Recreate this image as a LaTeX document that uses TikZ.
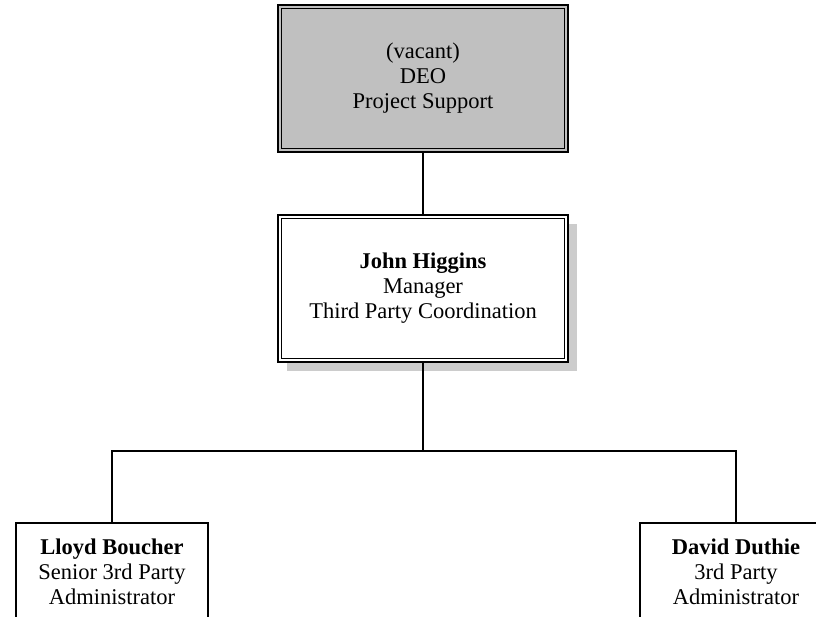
\documentclass[tikz,border=0pt]{standalone}
\usepackage{fontspec}
\setmainfont{Liberation Serif}
\definecolor{boxgray}{RGB}{192,192,192}
\definecolor{shadowgray}{RGB}{204,204,204}
\usetikzlibrary{positioning,shadows}

\tikzset{
  post/.style={draw, line width=1.6pt, align=center, inner sep=0pt,
               font=\fontsize{22.5}{25}\selectfont},
  headpost/.style={post, minimum width=290pt, minimum height=147pt},
  staffpost/.style={post, minimum width=192pt, minimum height=98pt},
  link/.style={line width=1.7pt}
}

\begin{document}
\begin{tikzpicture}[x=1pt,y=-1pt]
    \useasboundingbox (0,0) rectangle (816,617);
    \clip (0,0) rectangle (816,617);
    \node[headpost, fill=boxgray] (deo) at (423,78.5) {(vacant)\\DEO\\Project Support};
    \node[headpost, fill=white,
          drop shadow={shadow xshift=9pt, shadow yshift=-9pt, fill=shadowgray, opacity=1}]
          (mgr) at (423,288.5) {\textbf{John Higgins}\\Manager\\Third Party Coordination};
    % double border of the two upper boxes
    \foreach \n in {deo,mgr}
      \draw[line width=0.9pt] ([shift={(4,4)}]\n.north west) rectangle ([shift={(-4,-4)}]\n.south east);
    \node[staffpost, fill=white] (lloyd) at (112,572) {\textbf{Lloyd Boucher}\\Senior 3rd Party\\Administrator};
    \node[staffpost, fill=white] (david) at (736,572) {\textbf{David Duthie}\\3rd Party\\Administrator};
    \coordinate (bus) at (423,451);
    \draw[link] (deo.south) -- (mgr.north);
    \draw[link] (mgr.south) -- (bus);
    \draw[link] (lloyd.north) |- (bus) -| (david.north);
  \end{tikzpicture}
\end{document}
